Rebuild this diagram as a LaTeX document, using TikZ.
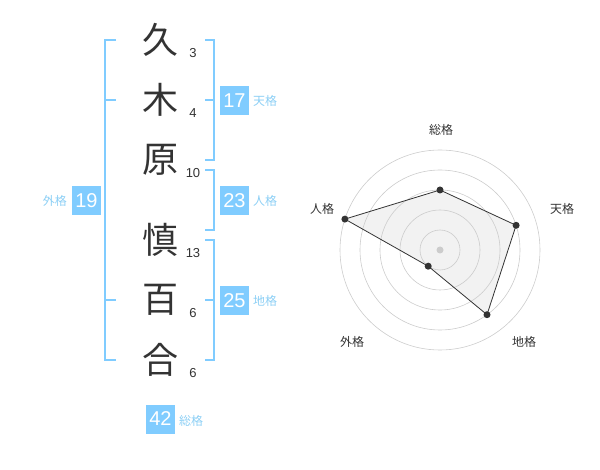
\documentclass[tikz,border=0pt]{standalone}
\usepackage{fontspec}
\usetikzlibrary{calc}
\setmainfont{Liberation Sans}
\newfontfamily\cjk{Noto Sans CJK JP}
\definecolor{ink}{HTML}{333333}
\definecolor{sky}{HTML}{80CCFF}
\definecolor{skytext}{HTML}{8CCFF5}
\definecolor{ring}{HTML}{CCCCCC}
\definecolor{fillg}{HTML}{F2F2F2}
\tikzset{
  kanji/.style={font=\cjk\fontsize{36}{36}\selectfont, text=ink, inner sep=0pt},
  strokes/.style={font=\fontsize{13}{13}\selectfont, text=ink, inner sep=0pt},
  scorebox/.style={fill=sky, text=white, minimum width=29pt, minimum height=29pt, inner sep=0pt, font=\fontsize{20}{20}\selectfont},
  scorelabel/.style={font=\cjk\fontsize{12}{12}\selectfont, text=skytext, inner sep=0pt},
  bracket/.style={draw=sky, line width=2pt},
  radarlabel/.style={font=\cjk\fontsize{12}{12}\selectfont, text=ink, inner sep=0pt},
  dot/.style={circle, fill=ink, inner sep=0pt, minimum size=7pt},
}
\begin{document}
\begin{tikzpicture}[x=1pt,y=-1pt]
\useasboundingbox (0,0) rectangle (600,470);
% kanji
\node[kanji] (k1) at (160,40) {久};
\node[kanji] (k2) at (160,100) {木};
\node[kanji] (k3) at (160,160) {原};
\node[kanji] (k4) at (160,240) {慎};
\node[kanji] (k5) at (160,300) {百};
\node[kanji] (k6) at (160,360) {合};
% stroke counts
\node[strokes] (s1) at (193,53) {3};
\node[strokes] (s2) at (193,113) {4};
\node[strokes] (s3) at (193,173) {10};
\node[strokes] (s4) at (193,253) {13};
\node[strokes] (s5) at (193,313) {6};
\node[strokes] (s6) at (193,373) {6};
% brackets
\draw[bracket] (116,40) -- (105,40) -- (105,360) -- (116,360);
\draw[bracket] (105,100) -- (116,100);
\draw[bracket] (105,300) -- (116,300);
\draw[bracket] (205,40) -- (214,40) -- (214,160) -- (205,160);
\draw[bracket] (205,100) -- (214,100);
\draw[bracket] (205,170) -- (214,170) -- (214,230) -- (205,230);
\draw[bracket] (205,240) -- (214,240) -- (214,360) -- (205,360);
\draw[bracket] (205,300) -- (214,300);
% score boxes
\node[scorebox] (ten) at (234.5,100.5) {17};
\node[scorelabel, anchor=west] (tenl) at (253,101) {天格};
\node[scorebox] (jin) at (234.5,200.5) {23};
\node[scorelabel, anchor=west] (jinl) at (253,201) {人格};
\node[scorebox] (chi) at (234.5,300.5) {25};
\node[scorelabel, anchor=west] (chil) at (253,301) {地格};
\node[scorebox] (gai) at (86.5,200.5) {19};
\node[scorelabel, anchor=east] (gail) at (67,201) {外格};
\node[scorebox] (sou) at (160.5,419) {42};
\node[scorelabel, anchor=west] (soul) at (179,421) {総格};
% radar
\coordinate (c) at (440,250);
\coordinate (p1) at ($(c)+(0,-60)$);
\coordinate (p2) at ($(c)+(76.1,-24.7)$);
\coordinate (p3) at ($(c)+(47.0,64.7)$);
\coordinate (p4) at ($(c)+(-11.8,16.2)$);
\coordinate (p5) at ($(c)+(-95.1,-30.9)$);
\fill[fillg] (p1) -- (p2) -- (p3) -- (p4) -- (p5) -- cycle;
\foreach \r in {20,40,60,80,100} \draw[ring, line width=0.6pt] (c) circle[radius=\r];
\draw[ink, line width=0.8pt] (p1) -- (p2) -- (p3) -- (p4) -- (p5) -- cycle;
\node[circle, fill=ring, inner sep=0pt, minimum size=7pt] (cd) at (c) {};
\foreach \p in {p1,p2,p3,p4,p5} \node[dot] at (\p) {};
\node[radarlabel] (rl1) at (441,130) {総格};
\node[radarlabel] (rl2) at (562,209) {天格};
\node[radarlabel] (rl3) at (524,342) {地格};
\node[radarlabel] (rl4) at (352,342) {外格};
\node[radarlabel] (rl5) at (322,209) {人格};
\end{tikzpicture}
\end{document}
